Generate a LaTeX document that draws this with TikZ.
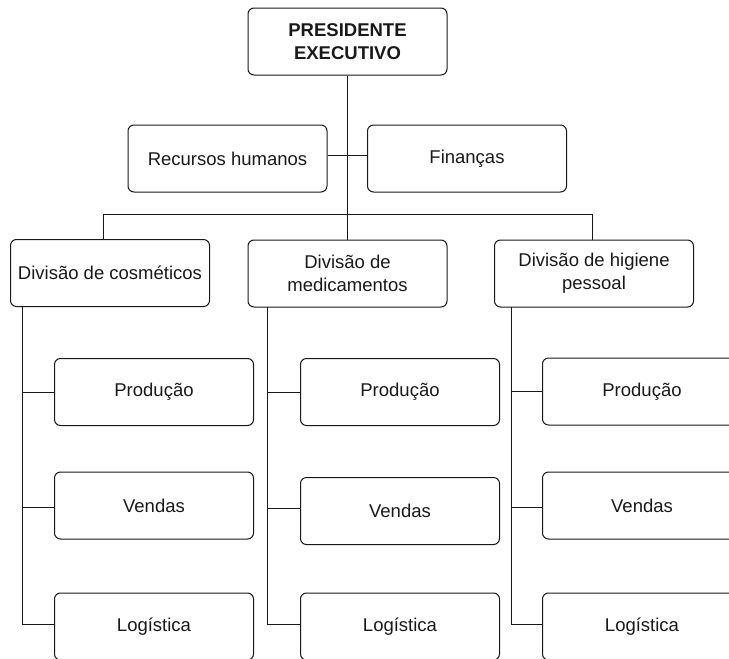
\documentclass[tikz,border=0pt]{standalone}
\usepackage{fontspec}
\setmainfont{Liberation Sans}
\begin{document}
\begin{tikzpicture}[x=1pt,y=-1pt,
  box/.style={draw=black!90, line width=1pt, rounded corners=6pt, align=center,
    font=\fontsize{18.5}{23}\selectfont, text=black!90, inner sep=0pt},
  wbox/.style={box, minimum width=199pt, minimum height=67pt},
  conn/.style={draw=black!90, line width=0.9pt}]
\useasboundingbox (0,0) rectangle (729,659);
\clip (0,0) rectangle (729,659);
% top level
\node[wbox, font=\bfseries\fontsize{18.5}{23}\selectfont] (pres) at (347.5,41.5) {PRESIDENTE\\EXECUTIVO};
\node[wbox] (rh) at (227.5,158.5) {Recursos humanos};
\node[wbox] (fin) at (467,158.5) {Finanças};
% divisions
\node[wbox] (cos) at (110,273) {Divisão de cosméticos};
\node[wbox] (med) at (347.5,273.5) {Divisão de\\medicamentos};
\node[wbox] (hig) at (594,273.5) {Divisão de higiene\\pessoal};
% children
\node[wbox] (cosP) at (154,392) {Produção};
\node[wbox] (cosV) at (154,505.5) {Vendas};
\node[wbox] (cosL) at (154,626.5) {Logística};
\node[wbox] (medP) at (400,392) {Produção};
\node[wbox] (medV) at (400,511) {Vendas};
\node[wbox] (medL) at (400,626.5) {Logística};
\node[wbox] (higP) at (642,391.5) {Produção};
\node[wbox] (higV) at (642,505.5) {Vendas};
\node[wbox] (higL) at (642,626.5) {Logística};
% connectors
\coordinate (busL) at (103,214);
\coordinate (busR) at (592,214);
\coordinate (cv) at (22.5,307);
\coordinate (mv) at (267,307);
\coordinate (hv) at (511,307);
\draw[conn] (pres.south) -- (med.north);
\draw[conn] ([yshift=3pt]rh.east) -- ([yshift=3pt]fin.west);
\draw[conn] (busL |- cos.north) -- (busL) -- (busR) -- (busR |- hig.north);
\draw[conn] (cv) |- ([yshift=2pt]cosL.west);
\draw[conn] (cv |- cosP.west) -- (cosP.west);
\draw[conn] ([yshift=-1.5pt]cv |- cosV.west) -- ([yshift=-1.5pt]cosV.west);
\draw[conn] (mv) |- ([yshift=2pt]medL.west);
\draw[conn] (mv |- medP.west) -- (medP.west);
\draw[conn] ([yshift=3pt]mv |- medV.west) -- ([yshift=3pt]medV.west);
\draw[conn] (hv) |- ([yshift=2pt]higL.west);
\draw[conn] (hv |- higP.west) -- (higP.west);
\draw[conn] ([yshift=-2pt]hv |- higV.west) -- ([yshift=-2pt]higV.west);
\end{tikzpicture}
\end{document}
